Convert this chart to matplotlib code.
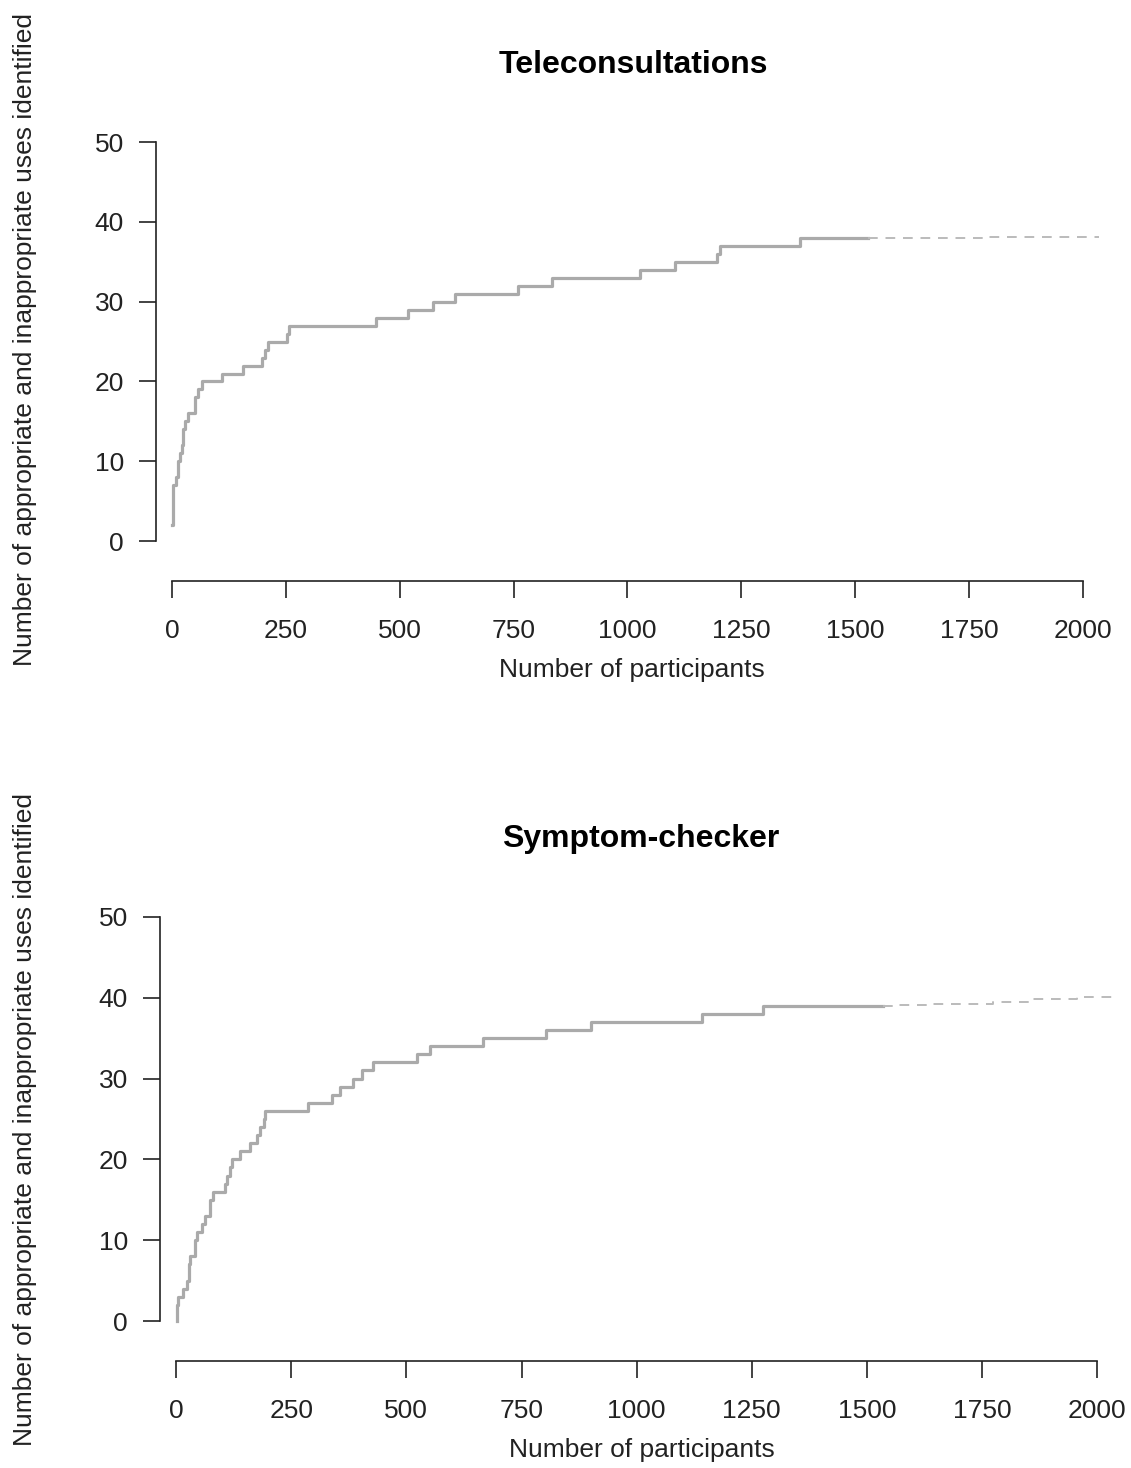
import numpy as np
import matplotlib
matplotlib.use('Agg')
import matplotlib.pyplot as plt

plt.rcParams['font.family'] = ['Liberation Sans', 'DejaVu Sans']

## observed accumulation (participants, uses identified)
tele_x = [1, 2, 3, 10, 14, 17, 21, 25, 28, 36, 50, 58, 65, 109, 157, 197, 204, 211,
          252, 258, 449, 519, 574, 621, 760, 834, 1027, 1104, 1196, 1203, 1379, 1529]
tele_y = [2, 4, 7, 8, 10, 11, 12, 14, 15, 16, 18, 19, 20, 21, 22, 23, 24, 25,
          26, 27, 28, 29, 30, 31, 32, 33, 34, 35, 36, 37, 38, 38]
## extrapolated part (dashed)
tele_ext_x = [1529, 1778, 2035]
tele_ext_y = [38, 38.1, 38.1]

sym_x = [1, 2, 5, 16, 23, 27, 29, 31, 41, 45, 56, 63, 74, 81, 106, 110, 117, 121,
         139, 161, 175, 182, 190, 193, 287, 338, 356, 385, 403, 428, 523, 552,
         667, 803, 901, 1142, 1275, 1536]
sym_y = [0, 2, 3, 4, 5, 6, 7, 8, 10, 11, 12, 13, 15, 16, 17, 18, 19, 20,
         21, 22, 23, 24, 25, 26, 27, 28, 29, 30, 31, 32, 33, 34,
         35, 36, 37, 38, 39, 39]
sym_ext_x = [1536, 1561, 1630, 1774, 1858, 1956, 2035]
sym_ext_y = [39, 39.1, 39.2, 39.5, 39.9, 40.1, 40.1]

xticks = [0, 250, 500, 750, 1000, 1250, 1500, 1750, 2000]
yticks = [0, 10, 20, 30, 40, 50]

W, H = 1131, 1468
fig = plt.figure(figsize=(W / 100, H / 100), dpi=100)

panels = [
    # title, obs x, obs y, ext x, ext y, axes rect (px), title pos, ylabel y, ylim, xlabel x
    ('Teleconsultations', tele_x, tele_y, tele_ext_x, tele_ext_y,
     (156, 581, 963.4, 454.9), (633, 65), 340, (-5.0, 52), 0.4936),
    ('Symptom-checker', sym_x, sym_y, sym_ext_x, sym_ext_y,
     (160, 1361, 974.0, 460.2), (641, 839), 1119, (-4.95, 52), 0.4943),
]

for title, ox, oy, ex, ey, rect, tpos, ylab_y, ylim, xlab_x in panels:
    l, b, w, h = rect
    ax = fig.add_axes([l / W, 1 - b / H, w / W, h / H])
    ax.step(ox, oy, where='post', color='#aaaaaa', lw=2.3)
    ax.step(ex, ey, where='post', color='#bbbbbb', lw=1.4, dashes=(5, 4))
    ax.set_xlim(-35, 2080)
    ax.set_ylim(*ylim)
    ax.set_xticks(xticks)
    ax.set_yticks(yticks)
    ax.spines['top'].set_visible(False)
    ax.spines['right'].set_visible(False)
    ax.spines['left'].set_bounds(0, 50)
    ax.spines['bottom'].set_bounds(0, 2000)
    for s in ['left', 'bottom']:
        ax.spines[s].set_linewidth(1.2)
        ax.spines[s].set_color('#222222')
    ax.tick_params(axis='both', length=12, width=1.2, color='#222222',
                   labelsize=19, labelcolor='#222222')
    ax.tick_params(axis='x', pad=15)
    ax.tick_params(axis='y', pad=11)
    ax.set_xlabel('Number of participants', fontsize=19, color='#222222', labelpad=11)
    ax.xaxis.label.set_x(xlab_x)
    fig.text(tpos[0] / W, 1 - tpos[1] / H, title, fontsize=23, fontweight='bold',
             ha='center', va='center')
    fig.text(25 / W, 1 - ylab_y / H,
             'Number of appropriate and inappropriate uses identified',
             fontsize=19, rotation=90, ha='center', va='center', color='#222222')

plt.savefig('out.png', dpi=100)
